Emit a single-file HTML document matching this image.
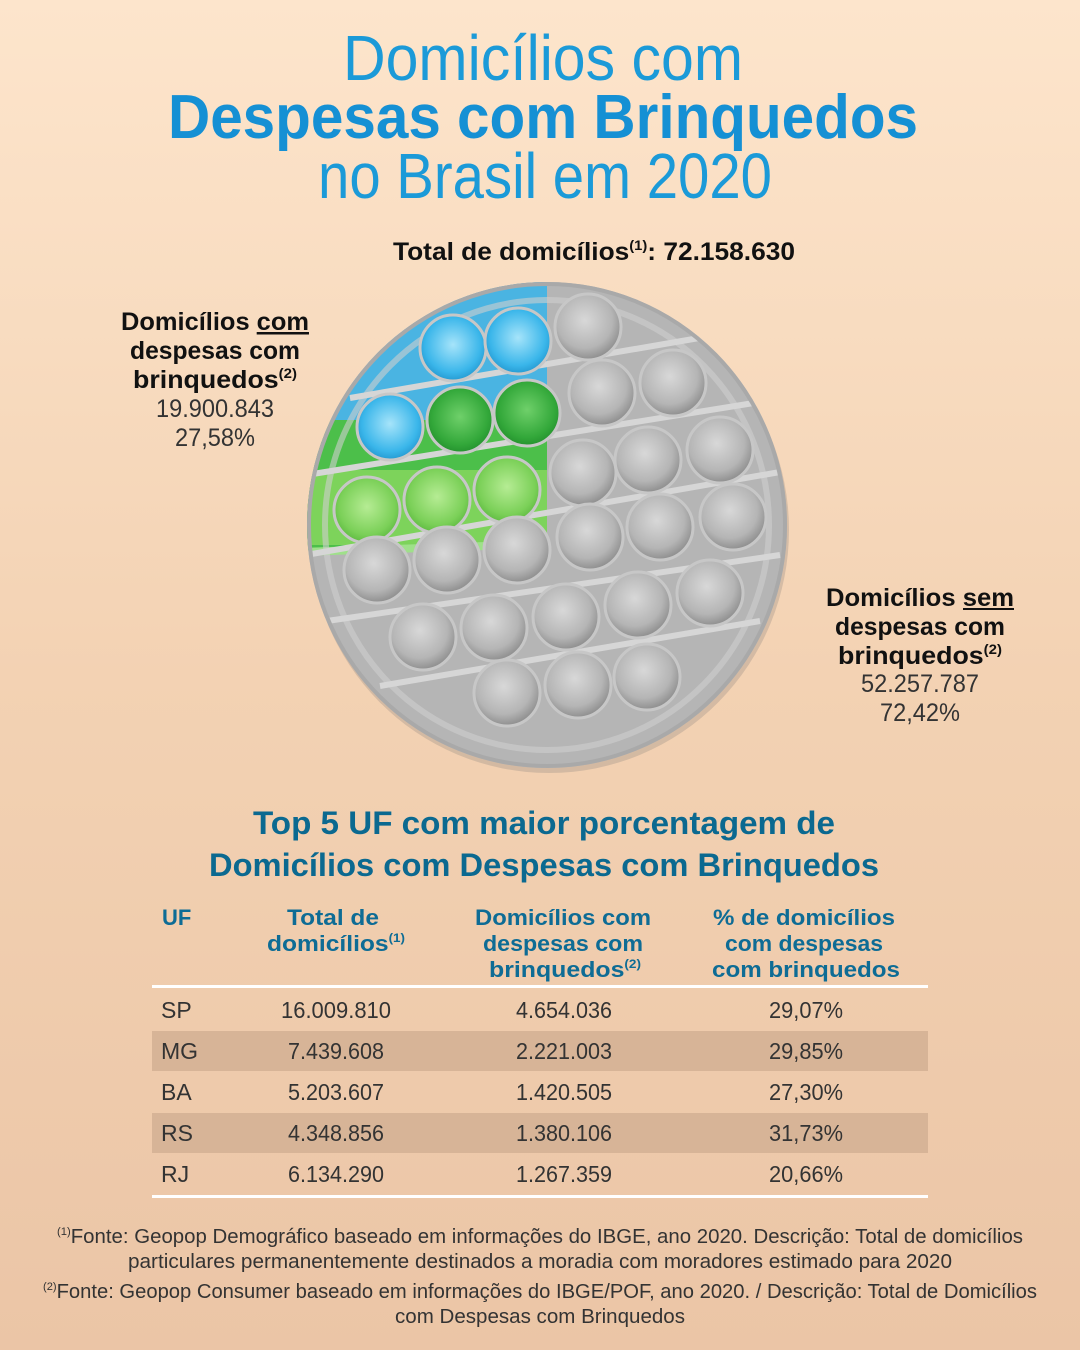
<!DOCTYPE html>
<html><head><meta charset="utf-8"><style>
html,body{margin:0;padding:0;width:1080px;height:1350px;overflow:hidden}
svg{display:block}
text{font-family:"Liberation Sans",sans-serif}
</style></head><body>
<svg width="1080" height="1350" viewBox="0 0 1080 1350" xmlns="http://www.w3.org/2000/svg">
<defs>
<linearGradient id="bg" x1="0" y1="0" x2="0" y2="1">
<stop offset="0" stop-color="#fde5cc"/><stop offset="0.5" stop-color="#f3d2b3"/><stop offset="1" stop-color="#ebc5a6"/>
</linearGradient>
<radialGradient id="gb" cx="0.45" cy="0.4" r="0.6"><stop offset="0" stop-color="#d8d8d8"/><stop offset="0.7" stop-color="#b5b5b5"/><stop offset="1" stop-color="#8e8e8e"/></radialGradient>
<radialGradient id="bb" cx="0.5" cy="0.45" r="0.6"><stop offset="0" stop-color="#a6e4fa"/><stop offset="0.7" stop-color="#3ab6ea"/><stop offset="1" stop-color="#1d8fc8"/></radialGradient>
<radialGradient id="grb" cx="0.5" cy="0.45" r="0.6"><stop offset="0" stop-color="#6fd06a"/><stop offset="0.7" stop-color="#33a83a"/><stop offset="1" stop-color="#1f8a2a"/></radialGradient>
<radialGradient id="lgb" cx="0.5" cy="0.45" r="0.6"><stop offset="0" stop-color="#b6ec94"/><stop offset="0.7" stop-color="#7bd058"/><stop offset="1" stop-color="#55b33a"/></radialGradient>
<clipPath id="cc"><ellipse cx="547" cy="525" rx="240" ry="243"/></clipPath>
</defs>
<rect width="1080" height="1350" fill="url(#bg)"/>

<text x="543" y="80" font-size="64" fill="#1b9ad8" text-anchor="middle" textLength="400" lengthAdjust="spacingAndGlyphs">Domicílios com</text>
<text x="543" y="138" font-size="62" font-weight="bold" fill="#1590d4" text-anchor="middle" textLength="750" lengthAdjust="spacingAndGlyphs">Despesas com Brinquedos</text>
<text x="545" y="198" font-size="64" fill="#1b9ad8" text-anchor="middle" textLength="454" lengthAdjust="spacingAndGlyphs">no Brasil em 2020</text>

<text x="393" y="260" font-size="25" font-weight="bold" fill="#111" textLength="402" lengthAdjust="spacingAndGlyphs">Total de domicílios<tspan font-size="14" dy="-10">(1)</tspan><tspan dy="10">: 72.158.630</tspan></text>

<!-- pop-it -->
<ellipse cx="549" cy="530" rx="240" ry="243" fill="#9a8f86" opacity="0.35"/>
<ellipse cx="547" cy="525" rx="240" ry="243" fill="#b5b5b5"/>
<g clip-path="url(#cc)">
<rect x="300" y="270" width="247" height="150" fill="#4ab4e2"/>
<rect x="300" y="420" width="247" height="130" fill="#4cbf4a"/>
<rect x="300" y="470" width="247" height="75" fill="#7dd35b"/>
<path d="M300 548 L547 540 L547 548 L300 556Z" fill="#9fe08a"/>
<ellipse cx="547" cy="525" rx="222" ry="225" fill="none" stroke="#cfcfcf" stroke-width="6" opacity="0.6"/>
<g stroke="#d6d6d6" stroke-width="6" fill="none">
<line x1="350" y1="398" x2="705" y2="337"/>
<line x1="300" y1="476" x2="760" y2="402"/>
<line x1="300" y1="556" x2="780" y2="472"/>
<line x1="320" y1="622" x2="780" y2="555"/>
<line x1="380" y1="686" x2="760" y2="621"/>
</g>
<g stroke="#c7c7c7" stroke-width="3">
<circle cx="453" cy="348" r="33" fill="url(#bb)"/>
<circle cx="518" cy="341" r="33" fill="url(#bb)"/>
<circle cx="588" cy="327" r="33" fill="url(#gb)"/>
<circle cx="390" cy="427" r="33" fill="url(#bb)"/>
<circle cx="460" cy="420" r="33" fill="url(#grb)"/>
<circle cx="527" cy="413" r="33" fill="url(#grb)"/>
<circle cx="602" cy="393" r="33" fill="url(#gb)"/>
<circle cx="673" cy="383" r="33" fill="url(#gb)"/>
<circle cx="367" cy="510" r="33" fill="url(#lgb)"/>
<circle cx="437" cy="500" r="33" fill="url(#lgb)"/>
<circle cx="507" cy="490" r="33" fill="url(#lgb)"/>
<circle cx="583" cy="473" r="33" fill="url(#gb)"/>
<circle cx="648" cy="460" r="33" fill="url(#gb)"/>
<circle cx="720" cy="450" r="33" fill="url(#gb)"/>
<circle cx="377" cy="570" r="33" fill="url(#gb)"/>
<circle cx="447" cy="560" r="33" fill="url(#gb)"/>
<circle cx="517" cy="550" r="33" fill="url(#gb)"/>
<circle cx="590" cy="537" r="33" fill="url(#gb)"/>
<circle cx="660" cy="527" r="33" fill="url(#gb)"/>
<circle cx="733" cy="517" r="33" fill="url(#gb)"/>
<circle cx="423" cy="637" r="33" fill="url(#gb)"/>
<circle cx="494" cy="628" r="33" fill="url(#gb)"/>
<circle cx="566" cy="617" r="33" fill="url(#gb)"/>
<circle cx="638" cy="605" r="33" fill="url(#gb)"/>
<circle cx="710" cy="593" r="33" fill="url(#gb)"/>
<circle cx="507" cy="693" r="33" fill="url(#gb)"/>
<circle cx="578" cy="685" r="33" fill="url(#gb)"/>
<circle cx="647" cy="677" r="33" fill="url(#gb)"/>
</g>
</g>
<ellipse cx="547" cy="525" rx="238" ry="241" fill="none" stroke="#a9a9a9" stroke-width="4"/>

<!-- left label -->
<g text-anchor="middle" font-size="25" fill="#111">
<text x="215" y="330" font-weight="bold" textLength="188" lengthAdjust="spacingAndGlyphs">Domicílios <tspan text-decoration="underline">com</tspan></text>
<text x="215" y="359" font-weight="bold" textLength="170" lengthAdjust="spacingAndGlyphs">despesas com</text>
<text x="215" y="388" font-weight="bold" textLength="164" lengthAdjust="spacingAndGlyphs">brinquedos<tspan font-size="14" dy="-10">(2)</tspan></text>
<text x="215" y="417" fill="#333" textLength="118" lengthAdjust="spacingAndGlyphs">19.900.843</text>
<text x="215" y="446" fill="#333" textLength="80" lengthAdjust="spacingAndGlyphs">27,58%</text>
</g>
<line x1="257" y1="333" x2="308" y2="333" stroke="#111" stroke-width="2"/>
<!-- right label -->
<g text-anchor="middle" font-size="25" fill="#111">
<text x="920" y="606" font-weight="bold" textLength="188" lengthAdjust="spacingAndGlyphs">Domicílios sem</text>
<text x="920" y="635" font-weight="bold" textLength="170" lengthAdjust="spacingAndGlyphs">despesas com</text>
<text x="920" y="664" font-weight="bold" textLength="164" lengthAdjust="spacingAndGlyphs">brinquedos<tspan font-size="14" dy="-10">(2)</tspan></text>
<text x="920" y="692" fill="#333" textLength="118" lengthAdjust="spacingAndGlyphs">52.257.787</text>
<text x="920" y="721" fill="#333" textLength="80" lengthAdjust="spacingAndGlyphs">72,42%</text>
</g>
<line x1="963" y1="609" x2="1014" y2="609" stroke="#111" stroke-width="2"/>

<!-- table -->
<text x="544" y="834" font-size="32" font-weight="bold" fill="#0b6990" text-anchor="middle" textLength="582" lengthAdjust="spacingAndGlyphs">Top 5 UF com maior porcentagem de</text>
<text x="544" y="876" font-size="32" font-weight="bold" fill="#0b6990" text-anchor="middle" textLength="670" lengthAdjust="spacingAndGlyphs">Domicílios com Despesas com Brinquedos</text>

<g font-size="22" font-weight="bold" fill="#0e6c95" text-anchor="middle">
<text x="162" y="925" text-anchor="start">UF</text>
<text x="333" y="925" textLength="92" lengthAdjust="spacingAndGlyphs">Total de</text>
<text x="336" y="951" textLength="138" lengthAdjust="spacingAndGlyphs">domicílios<tspan font-size="12" dy="-9">(1)</tspan></text>
<text x="563" y="925" textLength="176" lengthAdjust="spacingAndGlyphs">Domicílios com</text>
<text x="563" y="951" textLength="160" lengthAdjust="spacingAndGlyphs">despesas com</text>
<text x="565" y="977" textLength="152" lengthAdjust="spacingAndGlyphs">brinquedos<tspan font-size="12" dy="-9">(2)</tspan></text>
<text x="804" y="925" textLength="182" lengthAdjust="spacingAndGlyphs">% de domicílios</text>
<text x="804" y="951" textLength="158" lengthAdjust="spacingAndGlyphs">com despesas</text>
<text x="806" y="977" textLength="188" lengthAdjust="spacingAndGlyphs">com brinquedos</text>
</g>
<rect x="152" y="985" width="776" height="3" fill="#fff"/>
<rect x="152" y="1031" width="776" height="40" fill="#d7b497"/>
<rect x="152" y="1113" width="776" height="40" fill="#d7b497"/>
<rect x="152" y="1195" width="776" height="3" fill="#fff"/>
<g font-size="23" fill="#333">
<text x="161" y="1018">SP</text><text x="161" y="1059">MG</text><text x="161" y="1100">BA</text><text x="161" y="1141">RS</text><text x="161" y="1182">RJ</text>
</g>
<g font-size="23" fill="#333" text-anchor="middle">
<text x="336" y="1018" textLength="110" lengthAdjust="spacingAndGlyphs">16.009.810</text>
<text x="336" y="1059" textLength="96" lengthAdjust="spacingAndGlyphs">7.439.608</text>
<text x="336" y="1100" textLength="96" lengthAdjust="spacingAndGlyphs">5.203.607</text>
<text x="336" y="1141" textLength="96" lengthAdjust="spacingAndGlyphs">4.348.856</text>
<text x="336" y="1182" textLength="96" lengthAdjust="spacingAndGlyphs">6.134.290</text>
<text x="564" y="1018" textLength="96" lengthAdjust="spacingAndGlyphs">4.654.036</text>
<text x="564" y="1059" textLength="96" lengthAdjust="spacingAndGlyphs">2.221.003</text>
<text x="564" y="1100" textLength="96" lengthAdjust="spacingAndGlyphs">1.420.505</text>
<text x="564" y="1141" textLength="96" lengthAdjust="spacingAndGlyphs">1.380.106</text>
<text x="564" y="1182" textLength="96" lengthAdjust="spacingAndGlyphs">1.267.359</text>
<text x="806" y="1018" textLength="74" lengthAdjust="spacingAndGlyphs">29,07%</text>
<text x="806" y="1059" textLength="74" lengthAdjust="spacingAndGlyphs">29,85%</text>
<text x="806" y="1100" textLength="74" lengthAdjust="spacingAndGlyphs">27,30%</text>
<text x="806" y="1141" textLength="74" lengthAdjust="spacingAndGlyphs">31,73%</text>
<text x="806" y="1182" textLength="74" lengthAdjust="spacingAndGlyphs">20,66%</text>
</g>

<g font-size="20" fill="#333" text-anchor="middle">
<text x="540" y="1243" textLength="966" lengthAdjust="spacingAndGlyphs"><tspan font-size="11" dy="-8">(1)</tspan><tspan dy="8">Fonte: Geopop Demográfico baseado em informações do IBGE, ano 2020.  Descrição: Total de domicílios</tspan></text>
<text x="540" y="1268" textLength="824" lengthAdjust="spacingAndGlyphs">particulares permanentemente destinados a moradia com moradores estimado para 2020</text>
<text x="540" y="1298" textLength="994" lengthAdjust="spacingAndGlyphs"><tspan font-size="11" dy="-8">(2)</tspan><tspan dy="8">Fonte: Geopop Consumer baseado em informações do IBGE/POF, ano 2020. / Descrição: Total de Domicílios</tspan></text>
<text x="540" y="1323" textLength="290" lengthAdjust="spacingAndGlyphs">com Despesas com Brinquedos</text>
</g>
</svg>
</body></html>
